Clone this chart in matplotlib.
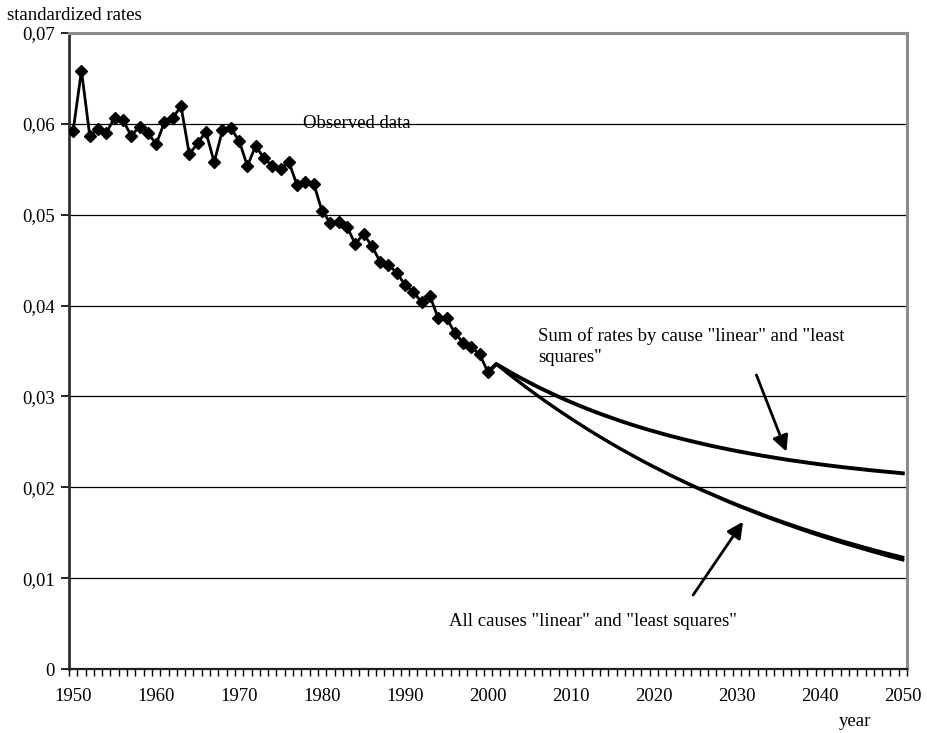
import matplotlib
matplotlib.use("Agg")
import matplotlib.pyplot as plt
import numpy as np
from matplotlib.ticker import FixedLocator, FuncFormatter

plt.rcParams["font.family"] = ["Liberation Serif", "DejaVu Serif"]

# observed standardized rates, 1950-2000
obs_years = list(range(1950, 2001))
obs_rates = [
    0.05925, 0.06586, 0.05870, 0.05943, 0.05903, 0.06068, 0.06039, 0.05870, 0.05969, 0.05903,
    0.05775, 0.06017, 0.06061, 0.06196, 0.05665, 0.05786, 0.05914, 0.05577, 0.05932, 0.05951,
    0.05815, 0.05536, 0.05759, 0.05621, 0.05539, 0.05500, 0.05580, 0.05322, 0.05363, 0.05338,
    0.05041, 0.04912, 0.04923, 0.04868, 0.04678, 0.04788, 0.04655, 0.04483, 0.04447, 0.04362,
    0.04226, 0.04153, 0.04036, 0.04105, 0.03860, 0.03860, 0.03701, 0.03591, 0.03540, 0.03463,
    0.03266,
]

# projections 2000-2050 (2000 = last observed value)
proj_years = list(range(2000, 2051))
sum_by_cause = [
    0.03266,
    0.03357, 0.03303, 0.03250, 0.03200, 0.03152, 0.03105, 0.03061, 0.03018, 0.02977, 0.02937,
    0.02899, 0.02862, 0.02827, 0.02793, 0.02761, 0.02729, 0.02699, 0.02670, 0.02642, 0.02616,
    0.02590, 0.02565, 0.02542, 0.02519, 0.02497, 0.02476, 0.02455, 0.02436, 0.02417, 0.02399,
    0.02382, 0.02365, 0.02349, 0.02334, 0.02319, 0.02304, 0.02291, 0.02278, 0.02265, 0.02253,
    0.02241, 0.02230, 0.02219, 0.02209, 0.02199, 0.02189, 0.02180, 0.02171, 0.02163, 0.02154,
]
all_causes_linear = [
    0.03266,
    0.03357, 0.03284, 0.03212, 0.03142, 0.03074, 0.03007, 0.02942, 0.02879, 0.02817, 0.02757,
    0.02698, 0.02640, 0.02584, 0.02529, 0.02476, 0.02423, 0.02373, 0.02323, 0.02274, 0.02227,
    0.02181, 0.02135, 0.02091, 0.02048, 0.02006, 0.01965, 0.01926, 0.01887, 0.01848, 0.01811,
    0.01775, 0.01740, 0.01705, 0.01671, 0.01638, 0.01606, 0.01575, 0.01544, 0.01514, 0.01485,
    0.01457, 0.01429, 0.01402, 0.01376, 0.01350, 0.01325, 0.01300, 0.01276, 0.01253, 0.01230,
]
all_causes_lsq = [
    0.03266,
    0.03357, 0.03284, 0.03212, 0.03142, 0.03074, 0.03007, 0.02941, 0.02878, 0.02816, 0.02756,
    0.02697, 0.02638, 0.02582, 0.02527, 0.02474, 0.02420, 0.02370, 0.02319, 0.02270, 0.02222,
    0.02176, 0.02130, 0.02085, 0.02041, 0.01999, 0.01957, 0.01918, 0.01878, 0.01838, 0.01800,
    0.01764, 0.01728, 0.01692, 0.01657, 0.01624, 0.01591, 0.01559, 0.01527, 0.01496, 0.01466,
    0.01437, 0.01408, 0.01380, 0.01353, 0.01326, 0.01300, 0.01274, 0.01248, 0.01224, 0.01200,
]

year_ticks = list(range(1950, 2051, 10))
rate_ticks = [0.0, 0.01, 0.02, 0.03, 0.04, 0.05, 0.06, 0.07]


def fmt_rate(v, _pos):
    return "0" if abs(v) < 1e-9 else f"{v:.2f}".replace(".", ",")


fig = plt.figure(figsize=(9.28, 7.33), dpi=100)
ax = fig.add_axes([69 / 928, 1 - 669 / 733, (907 - 69) / 928, (669 - 33) / 733])

ax.set_xlim(1949.5, 2050.5)
ax.set_ylim(0, 0.07)

for v in rate_ticks[1:-1]:
    ax.axhline(v, color="black", lw=0.9, zorder=1)

ax.plot(proj_years, sum_by_cause, color="black", lw=2.8, zorder=3)
ax.plot(proj_years, all_causes_linear, color="black", lw=2.2, zorder=3)
ax.plot(proj_years, all_causes_lsq, color="black", lw=2.2, zorder=3)
ax.plot(obs_years, obs_rates, color="black", lw=2.0, marker="D", ms=6.5, zorder=4)

# axes styling (Excel-like)
for side in ("top", "right"):
    ax.spines[side].set_color("#8c8c8c")
    ax.spines[side].set_linewidth(2.2)
ax.spines["left"].set_color("#303030")
ax.spines["left"].set_linewidth(2.0)
ax.spines["bottom"].set_color("#202020")
ax.spines["bottom"].set_linewidth(1.6)

ax.yaxis.set_major_locator(FixedLocator(rate_ticks))
ax.yaxis.set_major_formatter(FuncFormatter(fmt_rate))
ax.tick_params(axis="y", direction="out", length=6, width=1.2, labelsize=13.5, pad=4)

ax.xaxis.set_major_locator(FixedLocator(year_ticks))
ax.xaxis.set_minor_locator(FixedLocator(np.arange(1949.5, 2051, 1.0)))
ax.tick_params(axis="x", which="major", length=0, labelsize=13.5, pad=14)
ax.tick_params(axis="x", which="minor", direction="out", length=5, width=1.0)

fig.text(7 / 928, 1 - 15 / 733, "standardized rates", fontsize=13.5, ha="left", va="center")
fig.text(855 / 928, 1 - 722 / 733, "year", fontsize=13.5, ha="center", va="center")

ax.text(1977.7, 0.0600, "Observed data", fontsize=13.5, ha="left", va="center")
ax.text(2006.0, 0.0376, 'Sum of rates by cause "linear" and "least\nsquares"',
        fontsize=13.5, ha="left", va="top", linespacing=1.25)
ax.text(1995.3, 0.0052, 'All causes "linear" and "least squares"',
        fontsize=13.5, ha="left", va="center")

arrow = dict(arrowstyle="-|>", lw=2.0, color="black", mutation_scale=24, shrinkA=0, shrinkB=0)
ax.annotate("", xy=(2035.97, 0.02392), xytext=(2032.35, 0.03236), arrowprops=arrow)
ax.annotate("", xy=(2030.74, 0.01621), xytext=(2024.72, 0.00814), arrowprops=arrow)

fig.savefig("out.png", dpi=100)
